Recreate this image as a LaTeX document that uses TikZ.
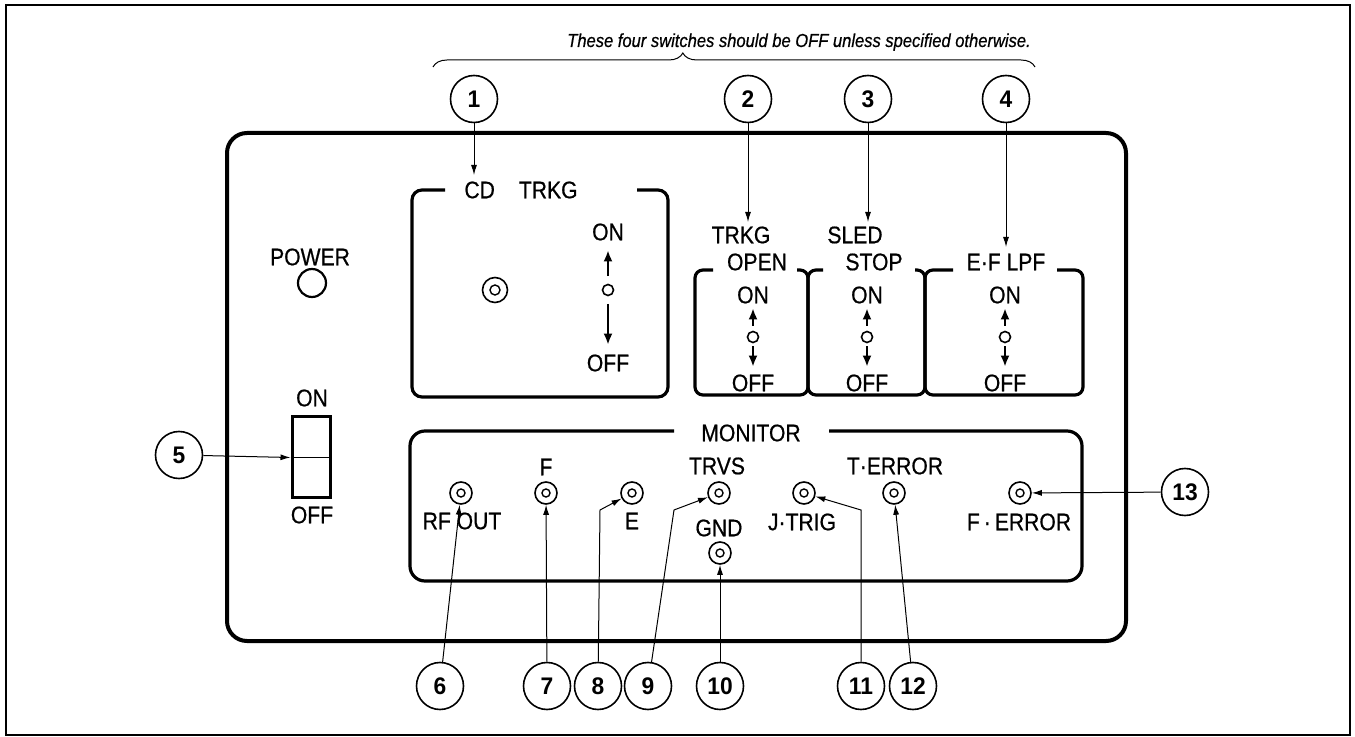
\documentclass[tikz,border=0pt]{standalone}
\usepackage{fontspec}
\usepackage{tikz}
\usetikzlibrary{arrows.meta, positioning, decorations.pathreplacing}
\newfontfamily\lblfont[FakeStretch=0.88, FakeBold=0.6]{Liberation Sans}
\newfontfamily\numfont[FakeStretch=0.95]{Liberation Sans}

\begin{document}
\begin{tikzpicture}[x=0.5pt, y=-0.5pt,
    lbl/.style={font=\lblfont\fontsize{12}{14}\selectfont, inner sep=0pt},
    note/.style={font=\lblfont\itshape\fontsize{9.4}{11}\selectfont, inner sep=0pt},
    num/.style={circle, draw, line width=0.8pt, minimum size=23.5pt, inner sep=0pt, font=\numfont\bfseries\fontsize{12}{14}\selectfont},
    jack/.style={circle, draw, line width=0.8pt, minimum size=11pt, inner sep=0pt,
        path picture={\draw[line width=0.7pt] (path picture bounding box.center) circle (2pt);}},
    pivot/.style={circle, draw, line width=0.8pt, minimum size=5.5pt, inner sep=0pt},
    toggle/.style={line width=1pt, -{Latex[length=5.5pt,width=4.5pt]}},
    pointer/.style={line width=0.5pt, -{Latex[length=5pt,width=3pt]}},
    frame/.style={line width=1.6pt, rounded corners=5pt}]

    \useasboundingbox (0,0) rectangle (1355,737);
    \draw[line width=0.6pt] (6,5) rectangle (1350,735);

    % Front panel and switch groups
    \draw[line width=2pt, rounded corners=10pt] (227,133) rectangle (1126,641);
    \draw[frame] (445,190) -- (412,190) -- (412,397) -- (668,397) -- (668,190) -- (637,190);
    \draw[frame, rounded corners=4pt] (713,270) -- (695,270) -- (695,395) -- (808,395) -- (808,270) -- (797,270);
    \draw[frame, rounded corners=4pt] (823,270) -- (808,270) -- (808,395) -- (925,395) -- (925,270) -- (915,270);
    \draw[frame, rounded corners=4pt] (953,270) -- (925,270) -- (925,395) -- (1083,395) -- (1083,270) -- (1057,270);
    \draw[frame, rounded corners=7.5pt] (674,431) -- (410,431) -- (410,581) -- (1082,581) -- (1082,431) -- (829,431);

    % Power
    \node[lbl] (power) at (310,257) {POWER};
    \node[circle, draw, line width=1.1pt, minimum size=14pt, inner sep=0pt] (led) at (312,283) {};
    \node[lbl] (rockon) at (312,398) {ON};
    \node[draw, line width=1.5pt, minimum width=19pt, minimum height=40.5pt, inner sep=0pt] (rocker) at (311,457.5) {};
    \draw[line width=0.8pt] (rocker.west) -- (rocker.east);
    \node[lbl] (rockoff) at (312,515) {OFF};

    % CD TRKG
    \node[lbl] (cdtrkg) at (521,190) {CD\quad TRKG};
    \node[jack, minimum size=12.5pt, path picture={\draw[line width=0.7pt] (path picture bounding box.center) circle (2.5pt);}] (cdjack) at (495,290) {};
    \node[lbl] (cdon) at (608,232) {ON};
    \node[pivot] (cdpiv) at (608,290) {};
    \node[lbl] (cdoff) at (608,363) {OFF};
    \draw[toggle, shorten <=3.75pt, shorten >=4.75pt] (cdpiv) -- (cdon);
    \draw[toggle, shorten <=3.75pt, shorten >=4.75pt] (cdpiv) -- (cdoff);

    % Small switches
    \node[lbl] (trkg) at (741,235) {TRKG};
    \node[lbl] (open) at (757,262) {OPEN};
    \node[lbl] (sled) at (855,235) {SLED};
    \node[lbl] (stop) at (874,262) {STOP};
    \node[lbl] (eflpf) at (1006,262) {E·F LPF};
    \foreach \x/\n in {753/a, 867/b, 1005/c} {
        \node[lbl] (on\n) at (\x,295) {ON};
        \node[pivot] (piv\n) at (\x,337) {};
        \node[lbl] (off\n) at (\x,383) {OFF};
        \draw[toggle, shorten <=2.5pt, shorten >=2.25pt] (piv\n) -- (on\n);
        \draw[toggle, shorten <=1.5pt, shorten >=3.75pt] (piv\n) -- (off\n);
    }

    % Monitor
    \node[lbl] (monitor) at (751,433) {MONITOR};
    \node[jack] (rfout) at (461,493) {};
    \node[jack] (fjack) at (546,493) {};
    \node[jack] (ejack) at (632,493) {};
    \node[jack] (trvs) at (719,493) {};
    \node[jack] (jtrig) at (804,493) {};
    \node[jack] (terror) at (894,493) {};
    \node[jack] (ferror) at (1020,493) {};
    \node[jack] (gnd) at (720,553) {};
    \node[lbl] at (462,521) {RF OUT};
    \node[lbl] at (546,467) {F};
    \node[lbl] at (632,521) {E};
    \node[lbl] at (717,466) {TRVS};
    \node[lbl] at (719,528) {GND};
    \node[lbl] at (802,522) {J·TRIG};
    \node[lbl] at (895,466) {T·ERROR};
    \node[lbl] at (1019,522) {F\,·\,ERROR};

    % Note
    \node[note, anchor=base] (remark) at (799,47) {These four switches should be OFF unless specified otherwise.};
    \draw[line width=0.5pt, decorate, decoration={brace, amplitude=7pt, aspect=0.415}] (433,67) -- (1035,67);

    % Callouts
    \node[num] (n1) at (474,99) {1};
    \node[num] (n2) at (748,99) {2};
    \node[num] (n3) at (868,99) {3};
    \node[num] (n4) at (1006,99) {4};
    \node[num] (n5) at (179,455) {5};
    \node[num] (n6) at (440,686) {6};
    \node[num] (n7) at (547,686) {7};
    \node[num] (n8) at (598,686) {8};
    \node[num] (n9) at (648,686) {9};
    \node[num] (n10) at (720,686) {10};
    \node[num] (n11) at (861,686) {11};
    \node[num] (n12) at (913,686) {12};
    \node[num] (n13) at (1185,492) {13};

    \coordinate (t1) at (474,175);
    \coordinate (t2) at (748,222);
    \coordinate (t3) at (868,222);
    \coordinate (t4) at (1006,247);
    \coordinate (k8) at (600,510);
    \coordinate (k9) at (674,510);
    \coordinate (k11) at (861,510);

    \draw[pointer] (n1) -- (t1);
    \draw[pointer] (n2) -- (t2);
    \draw[pointer] (n3) -- (t3);
    \draw[pointer] (n4) -- (t4);
    \draw[pointer] (n5) -- (rocker.west);
    \draw[pointer] (n6) -- (rfout);
    \draw[pointer] (n7) -- (fjack);
    \draw[pointer] (n8) -- (k8) -- (ejack);
    \draw[pointer] (n9) -- (k9) -- (trvs);
    \draw[pointer] (n10) -- (gnd);
    \draw[pointer] (n11) -- (k11) -- (jtrig);
    \draw[pointer] (n12) -- (terror);
    \draw[pointer] (n13) -- (ferror);
\end{tikzpicture}
\end{document}
